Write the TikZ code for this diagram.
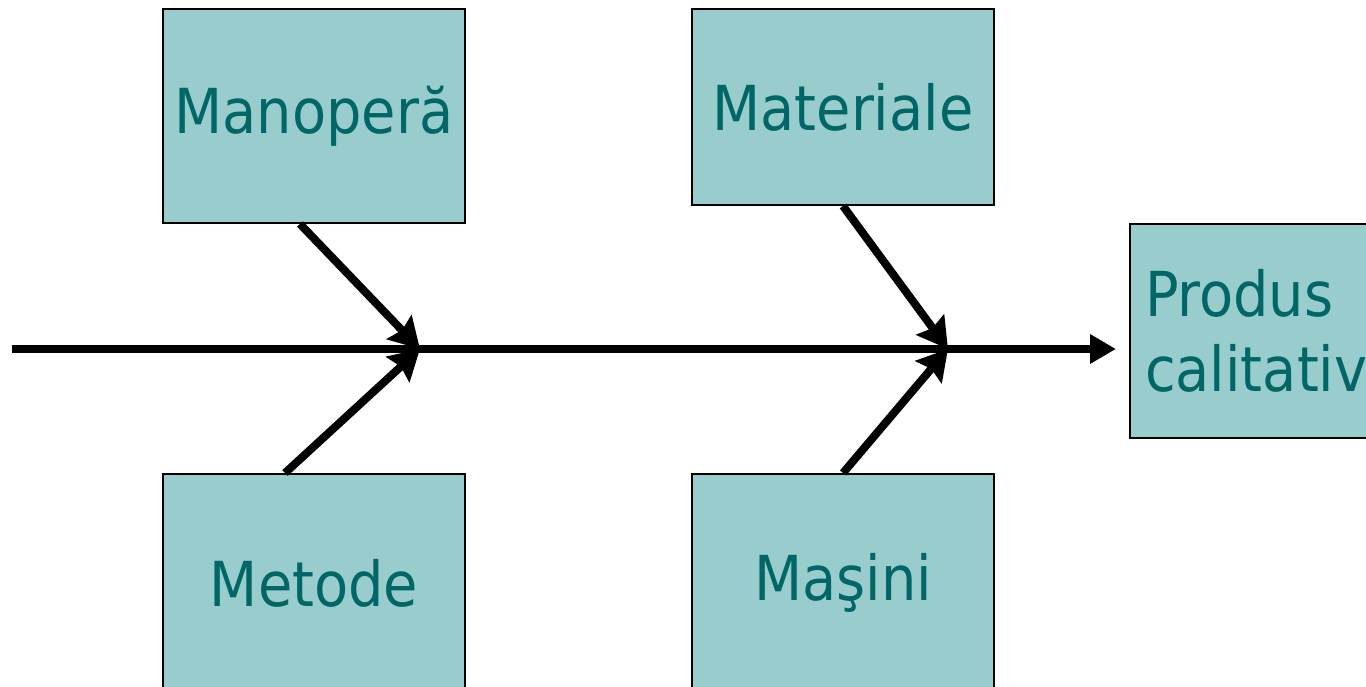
\documentclass[tikz,border=0pt]{standalone}
\usepackage{fontspec}
\setmainfont{DejaVu Sans}[FakeStretch=0.9]
\usetikzlibrary{arrows.meta}
\definecolor{boxfill}{HTML}{99CCCC}
\definecolor{boxtext}{HTML}{006666}
\begin{document}
\begin{tikzpicture}[x=1pt,y=-1pt,
  cause/.style={draw=black,line width=2pt,fill=boxfill,text=boxtext,inner sep=0pt,
    font=\fontsize{62}{75}\selectfont,align=center},
  arr/.style={line width=8pt,-{Stealth[length=30pt,width=34pt,inset=4pt]}},
  spine/.style={line width=8pt,-{Triangle[length=26pt,width=28pt]}}]
\useasboundingbox (0,0) rectangle (1366,687);
\clip (0,0) rectangle (1366,687);
\node[cause,minimum width=302pt,minimum height=214pt] (man) at (314,116) {Manoperă};
\node[cause,minimum width=302pt,minimum height=196pt] (mat) at (843,107) {Materiale};
\node[cause,minimum width=302pt,minimum height=218pt] (met) at (314,583) {Metode};
\node[cause,minimum width=302pt,minimum height=218pt] (mas) at (843,583) {Maşini};
\node[cause,minimum width=240pt,minimum height=214pt,align=left,text width=210pt] (prod) at (1250,331) {Produs\\calitativ};
\coordinate (start) at (12,349);
\coordinate (j1) at (420,349);
\coordinate (j2) at (948,349);
\coordinate (tip) at (1116,349);
\draw[spine] (start) -- (tip);
\draw[arr] ([xshift=-14pt]man.south) -- (j1);
\draw[arr] ([xshift=-29pt]met.north) -- (j1);
\draw[arr] (mat.south) -- (j2);
\draw[arr] (mas.north) -- (j2);
\end{tikzpicture}
\end{document}
